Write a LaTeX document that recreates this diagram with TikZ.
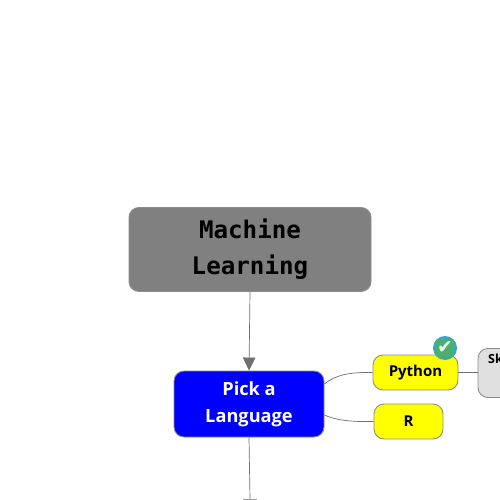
\documentclass[tikz,border=0pt]{standalone}
\usepackage{fontspec}
\setmainfont{Open Sans}
\setmonofont{DejaVu Sans Mono}
\newfontfamily\symfont{DejaVu Sans}
\usetikzlibrary{arrows.meta}
\definecolor{edgegray}{HTML}{707070}
\definecolor{rootgray}{HTML}{808080}
\definecolor{boxline}{HTML}{8C8C8C}
\definecolor{leafgray}{HTML}{E0E0E0}
\definecolor{pureyellow}{HTML}{FFFF00}
\definecolor{pureblue}{HTML}{0000FF}
\definecolor{badgeblue}{HTML}{35A5C8}
\definecolor{badgegreen}{HTML}{4CAF70}
\tikzset{
  x=1pt,y=-1pt,
  topic/.style={rounded corners=10pt,draw=boxline,line width=0.9pt,inner sep=0pt,align=center},
  link/.style={draw=edgegray,line width=0.7pt},
}
\begin{document}
\begin{tikzpicture}
\useasboundingbox (0,0) rectangle (500,500);
\path[fill=white] (0,0) rectangle (500,500);
\node[topic,fill=rootgray,minimum width=242pt,minimum height=84pt,text=black,font=\ttfamily\bfseries\fontsize{24.2}{36}\selectfont] (root) at (250,249.5) {Machine\\Learning};
\node[topic,fill=pureblue,minimum width=150pt,minimum height=66pt,text=white,font=\bfseries\fontsize{18.2}{27}\selectfont] (pick) at (249,404) {Pick a\\Language};
\node[topic,fill=pureyellow,minimum width=85pt,minimum height=35pt,font=\bfseries\fontsize{15}{18}\selectfont] (python) at (415.5,372.5) {Python};
\node[topic,fill=pureyellow,minimum width=69pt,minimum height=35pt,font=\bfseries\fontsize{15}{18}\selectfont] (r) at (408.5,421.5) {R};
\begin{scope}
\clip (0,0) rectangle (500,500);
\node[topic,fill=leafgray,minimum width=60pt,minimum height=49pt] (sk) at (508,373) {};
\node[anchor=north west,inner sep=0pt,font=\bfseries\fontsize{12.5}{15}\selectfont] (sktext) at (488,354) {Sk};
\coordinate (next) at (250,499);
\draw[link] (pick.south) -- (next);
\node[fill=edgegray!70,minimum width=14pt,minimum height=1pt,inner sep=0pt] (nexttip) at (250,499.5) {};
\end{scope}
\draw[link,-{Triangle[length=13pt,width=12.5pt]},edgegray] (root.south) -- (pick.north);
\draw[link] (python.west) .. controls (350,372) and (335,375) .. (pick.east |- 0,384);
\draw[link] (r.west) .. controls (350,422) and (335,420) .. (pick.east |- 0,415);
\draw[link] (python.east) -- (sk.west |- python.east);
\node[circle,fill=badgeblue,minimum size=24pt,inner sep=0pt] (badge) at (445,348) {};
\node[fill=badgegreen,rounded corners=3pt,minimum size=18pt,inner sep=0pt] (badgein) at (445,348) {};
\node[text=white!92!green,inner sep=0pt,font=\symfont\fontsize{19}{19}\selectfont] (check) at (445,348) {✔};
\end{tikzpicture}
\end{document}
